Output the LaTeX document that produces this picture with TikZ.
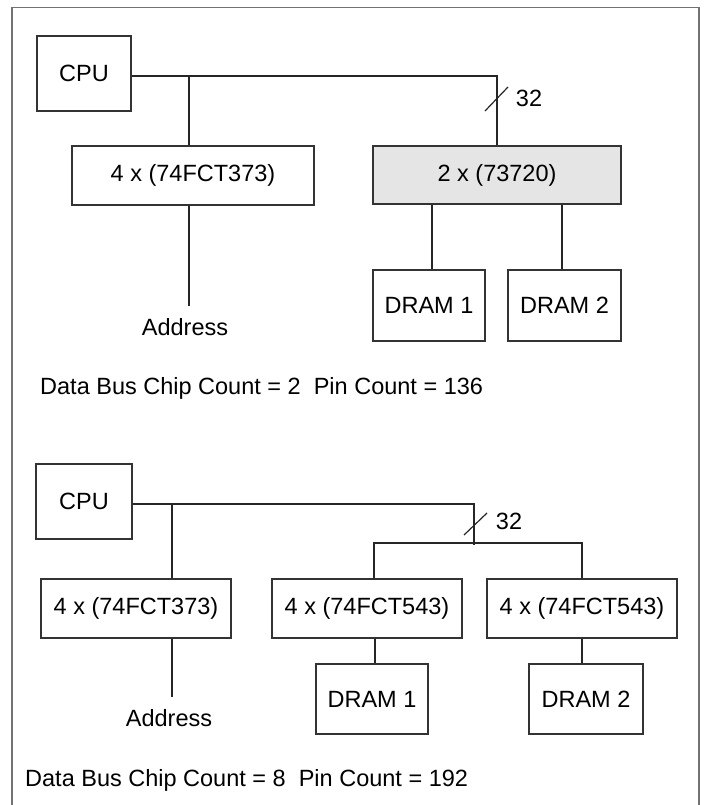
\documentclass[tikz,border=0pt]{standalone}
\usepackage{fontspec}
\setmainfont{Liberation Sans}
\begin{document}
\begin{tikzpicture}[x=1pt,y=-1pt,
  wire/.style={line width=1.2pt, black!85},
  blk/.style={draw=black!80, line width=1.2pt, inner sep=0pt, rectangle,
    font=\fontsize{23.5}{28}\selectfont},
  lbl/.style={inner sep=0pt, font=\fontsize{23.5}{28}\selectfont},
  frame/.style={line width=1.4pt, black!55}]
\useasboundingbox (0,0) rectangle (707,805);
\draw[frame] (12,805) -- (12,7.5) -- (699,7.5) -- (699,805);

% ---------- top diagram ----------
\node[blk, minimum width=94pt, minimum height=75pt] (cpu1) at (84,73.5) {CPU};
\node[blk, minimum width=242pt, minimum height=59pt] (l373a) at (193,175.5) {4 x (74FCT373)};
\node[blk, fill=black!10, minimum width=248pt, minimum height=58pt] (x720) at (497,175) {2 x (73720)};
\node[blk, minimum width=112pt, minimum height=71pt] (d1a) at (429,305.5) {DRAM 1};
\node[blk, minimum width=113pt, minimum height=71pt] (d2a) at (564.5,305.5) {DRAM 2};
\coordinate (busa) at (131,76);
\coordinate (bra) at (189,76);
\coordinate (xa1) at (432,0);
\coordinate (xa2) at (562,0);
\coordinate (addra) at (189,306);
\coordinate (sla1) at (485,111);
\coordinate (sla2) at (508,87);
\draw[wire] (cpu1.east |- busa) -- (busa -| x720.north) -- (x720.north);
\draw[wire] (bra) -- (l373a.north -| bra);
\draw[wire] (l373a.south -| bra) -- (addra);
\node[lbl] (adra) at (185,327) {Address};
\draw[wire] (x720.south -| xa1) -- (d1a.north -| xa1);
\draw[wire] (x720.south -| xa2) -- (d2a.north -| xa2);
\draw[wire] (sla1) -- (sla2);
\node[lbl] (w32a) at (529,98) {32};
\node[lbl, anchor=west] (capa) at (40,388) {Data Bus Chip Count = 2\ \ Pin Count = 136};

% ---------- bottom diagram ----------
\node[blk, minimum width=96pt, minimum height=75pt] (cpu2) at (84,501.5) {CPU};
\node[blk, minimum width=190pt, minimum height=59pt] (l373b) at (136,608.5) {4 x (74FCT373)};
\node[blk, minimum width=190pt, minimum height=59pt] (t543a) at (367,608.5) {4 x (74FCT543)};
\node[blk, minimum width=190pt, minimum height=59pt] (t543b) at (582,608.5) {4 x (74FCT543)};
\node[blk, minimum width=112pt, minimum height=70pt] (d1b) at (372,699) {DRAM 1};
\node[blk, minimum width=114pt, minimum height=70pt] (d2b) at (586,699) {DRAM 2};
\coordinate (busb) at (132,504);
\coordinate (busbe) at (474,504);
\coordinate (busbd) at (474,544.5);
\coordinate (brb) at (172,504);
\coordinate (hl) at (374,543);
\coordinate (hr) at (582,543);
\coordinate (xb1) at (375,0);
\coordinate (addrb) at (172,697);
\coordinate (slb1) at (464,535);
\coordinate (slb2) at (487,513);
\draw[wire] (cpu2.east |- busb) -- (busbe) -- (busbd);
\draw[wire] (t543a.north -| hl) -- (hl) -- (hr) -- (t543b.north -| hr);
\draw[wire] (brb) -- (l373b.north -| brb);
\draw[wire] (l373b.south -| brb) -- (addrb);
\node[lbl] (adrb) at (169,718) {Address};
\draw[wire] (t543a.south -| xb1) -- (d1b.north -| xb1);
\draw[wire] (t543b.south -| hr) -- (d2b.north -| hr);
\draw[wire] (slb1) -- (slb2);
\node[lbl] (w32b) at (509,521) {32};
\node[lbl, anchor=west] (capb) at (25,780) {Data Bus Chip Count = 8\ \ Pin Count = 192};
\end{tikzpicture}
\end{document}
